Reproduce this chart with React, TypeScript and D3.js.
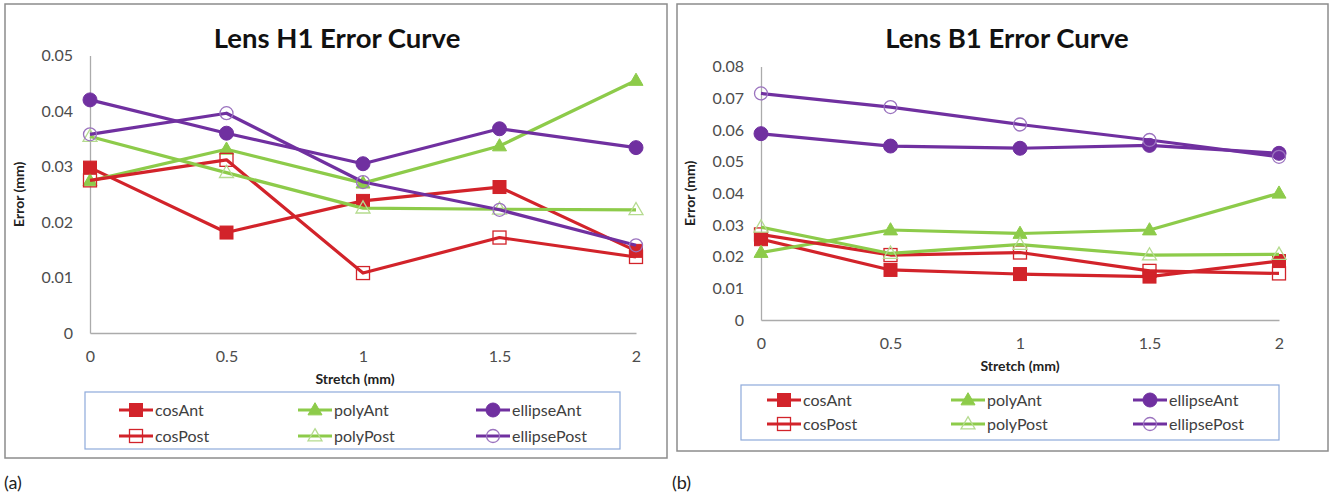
import React, {useEffect, useRef} from 'react';
import * as d3 from 'd3';

// x values shared by both charts
const stretch = [0, 0.5, 1, 1.5, 2];
const seriesNames = ["cosAnt", "polyAnt", "ellipseAnt", "cosPost", "polyPost", "ellipsePost"];

// Lens H1 (a)
const h1CosAnt = [0.0298, 0.0181, 0.0238, 0.0263, 0.0148];
const h1PolyAnt = [0.0274, 0.0331, 0.0270, 0.0337, 0.0455];
const h1EllipseAnt = [0.0420, 0.0360, 0.0305, 0.0368, 0.0334];
const h1CosPost = [0.0275, 0.0312, 0.0108, 0.0172, 0.0137];
const h1PolyPost = [0.0354, 0.0289, 0.0225, 0.0223, 0.0222];
const h1EllipsePost = [0.0358, 0.0396, 0.0272, 0.0222, 0.0158];

// Lens B1 (b)
const b1CosAnt = [0.0255, 0.0158, 0.0145, 0.0137, 0.0186];
const b1PolyAnt = [0.0213, 0.0284, 0.0273, 0.0284, 0.0400];
const b1EllipseAnt = [0.0588, 0.0549, 0.0542, 0.0551, 0.0526];
const b1CosPost = [0.0270, 0.0205, 0.0213, 0.0155, 0.0147];
const b1PolyPost = [0.0293, 0.0210, 0.0238, 0.0205, 0.0207];
const b1EllipsePost = [0.0715, 0.0672, 0.0617, 0.0568, 0.0515];

const h1Ticks = [0, 0.01, 0.02, 0.03, 0.04, 0.05];
const b1Ticks = [0, 0.01, 0.02, 0.03, 0.04, 0.05, 0.06, 0.07, 0.08];

const RED = "#D2232A";
const GREEN = "#8DCB4A";
const PURPLE = "#7030A0";
const FONT = "Lato, 'Liberation Sans', sans-serif";

// style per series name
const seriesStyle: any = {
    cosAnt: {color: RED, shape: "square", filled: true},
    polyAnt: {color: GREEN, shape: "triangle", filled: true},
    ellipseAnt: {color: PURPLE, shape: "circle", filled: true},
    cosPost: {color: RED, shape: "square", filled: false},
    polyPost: {color: GREEN, shape: "triangle", filled: false},
    ellipsePost: {color: PURPLE, shape: "circle", filled: false},
};

function drawMarker(g: any, shape: string, filled: boolean, color: string, x: number, y: number) {
    if (shape === "square") {
        g.append("rect")
            .attr("x", x - 6.5).attr("y", y - 6.5)
            .attr("width", 13).attr("height", 13)
            .attr("fill", filled ? color : "none")
            .attr("stroke", color)
            .attr("stroke-width", filled ? 1 : 1.3);
    } else if (shape === "circle") {
        g.append("circle")
            .attr("cx", x).attr("cy", y)
            .attr("r", filled ? 7 : 6.5)
            .attr("fill", filled ? color : "none")
            .attr("stroke", filled ? color : "#9b73bf")
            .attr("stroke-width", filled ? 1 : 1.3);
    } else {
        let s = 14;
        let h = s * 0.87;
        g.append("path")
            .attr("d", `M${x},${y - h * 0.6}L${x + s / 2},${y + h * 0.4}L${x - s / 2},${y + h * 0.4}Z`)
            .attr("fill", filled ? color : "none")
            .attr("stroke", filled ? color : "#b5db8f")
            .attr("stroke-width", filled ? 1 : 1.3);
    }
}

function drawChart(svg: any, cfg: any) {
    let g = svg.append("g");

    // panel border
    g.append("rect")
        .attr("x", cfg.box[0]).attr("y", cfg.box[1])
        .attr("width", cfg.box[2]).attr("height", cfg.box[3])
        .attr("fill", "white")
        .attr("stroke", "#8c8c8c")
        .attr("stroke-width", 1.5);

    // scales
    let xScale = d3.scaleLinear().domain([0, 2]).range([cfg.x0, cfg.x1]);
    let yScale = d3.scaleLinear().domain([0, cfg.yMax]).range([cfg.yBottom, cfg.yTop]);

    // axis
    let xAxis = d3.axisBottom(xScale)
        .tickValues(stretch)
        .tickSize(0)
        .tickPadding(18)
        .tickFormat(d3.format(""));
    let yAxis = d3.axisLeft(yScale)
        .tickValues(cfg.ticks)
        .tickSize(0)
        .tickPadding(17)
        .tickFormat((d: any) => d === 0 ? "0" : d3.format(".2f")(d));

    let xg = g.append("g")
        .attr("transform", `translate(0, ${cfg.yBottom})`)
        .call(xAxis);
    let yg = g.append("g")
        .attr("transform", `translate(${cfg.x0}, 0)`)
        .call(yAxis);

    [xg, yg].forEach(a => {
        a.select(".domain").attr("stroke", "#ababab").attr("stroke-width", 1.3);
        a.selectAll("text")
            .attr("font-family", FONT)
            .attr("font-size", 16)
            .attr("fill", "#4d4d4d");
    });

    // lines + markers
    let line = d3.line<number>()
        .x((d, i) => xScale(stretch[i]))
        .y(d => yScale(d));

    seriesNames.forEach(name => {
        let st = seriesStyle[name];
        let vals = cfg.data[name];
        g.append("path")
            .datum(vals)
            .attr("d", line)
            .attr("fill", "none")
            .attr("stroke", st.color)
            .attr("stroke-width", 3.2)
            .attr("stroke-linejoin", "round");
        vals.forEach((v: number, i: number) => {
            drawMarker(g, st.shape, st.filled, st.color, xScale(stretch[i]), yScale(v));
        });
    });

    // title
    g.append("text")
        .attr("x", cfg.titleX)
        .attr("y", 48)
        .attr("text-anchor", "middle")
        .attr("font-family", FONT)
        .attr("font-weight", "bold")
        .attr("font-size", 27.5)
        .attr("fill", "#111")
        .text(cfg.title);

    // axis titles
    g.append("text")
        .attr("x", cfg.stretchX)
        .attr("y", cfg.yBottom + 51)
        .attr("text-anchor", "middle")
        .attr("font-family", FONT)
        .attr("font-weight", "bold")
        .attr("font-size", 14)
        .attr("fill", "#222")
        .text("Stretch (mm)");

    g.append("text")
        .attr("transform", `translate(${cfg.errorX}, ${(cfg.yTop + cfg.yBottom) / 2}) rotate(-90)`)
        .attr("text-anchor", "middle")
        .attr("font-family", FONT)
        .attr("font-weight", "bold")
        .attr("font-size", 14)
        .attr("fill", "#222")
        .text("Error (mm)");

    // legend
    let lg = cfg.legend;
    g.append("rect")
        .attr("x", lg.x).attr("y", lg.y)
        .attr("width", lg.w).attr("height", lg.h)
        .attr("fill", "white")
        .attr("stroke", "#8eaadb")
        .attr("stroke-width", 1.2);

    seriesNames.forEach((name, i) => {
        let st = seriesStyle[name];
        let col = i % 3;
        let row = Math.floor(i / 3);
        let lx = lg.cols[col];
        let ly = lg.rows[row];
        g.append("line")
            .attr("x1", lx).attr("x2", lx + 34)
            .attr("y1", ly).attr("y2", ly)
            .attr("stroke", st.color)
            .attr("stroke-width", 3.2);
        drawMarker(g, st.shape, st.filled, st.color, lx + 17, ly);
        g.append("text")
            .attr("x", lx + 36)
            .attr("y", ly + 5.5)
            .attr("font-family", FONT)
            .attr("font-size", 16)
            .attr("fill", "#404040")
            .text(name);
    });

    // panel label
    svg.append("text")
        .attr("x", cfg.labelX)
        .attr("y", 489)
        .attr("font-family", FONT)
        .attr("font-size", 18)
        .attr("fill", "#222")
        .text(cfg.label);
}

export default function App() {
    const ref = useRef<SVGSVGElement>(null);

    useEffect(() => {
        let svg = d3.select(ref.current);
        svg.selectAll("*").remove();

        drawChart(svg, {
            box: [5, 4, 662, 454],
            x0: 90, x1: 636, yTop: 55.5, yBottom: 333, yMax: 0.05,
            ticks: h1Ticks,
            title: "Lens H1 Error Curve", titleX: 337,
            stretchX: 355, errorX: 24,
            legend: {x: 85, y: 392, w: 535, h: 57, cols: [119, 298, 476], rows: [410, 436]},
            label: "(a)", labelX: 4,
            data: {
                cosAnt: h1CosAnt, polyAnt: h1PolyAnt, ellipseAnt: h1EllipseAnt,
                cosPost: h1CosPost, polyPost: h1PolyPost, ellipsePost: h1EllipsePost
            }
        });

        drawChart(svg, {
            box: [677, 4, 651, 447],
            x0: 761, x1: 1279, yTop: 66.5, yBottom: 320, yMax: 0.08,
            ticks: b1Ticks,
            title: "Lens B1 Error Curve", titleX: 1007,
            stretchX: 1020, errorX: 695,
            legend: {x: 741, y: 385, w: 538, h: 55, cols: [767, 951, 1133], rows: [400, 424]},
            label: "(b)", labelX: 672,
            data: {
                cosAnt: b1CosAnt, polyAnt: b1PolyAnt, ellipseAnt: b1EllipseAnt,
                cosPost: b1CosPost, polyPost: b1PolyPost, ellipsePost: b1EllipsePost
            }
        });
    }, []);

    return (
        <svg ref={ref} width={1330} height={493}
             style={{position: "absolute", left: 0, top: 0, background: "white"}}/>
    );
}
